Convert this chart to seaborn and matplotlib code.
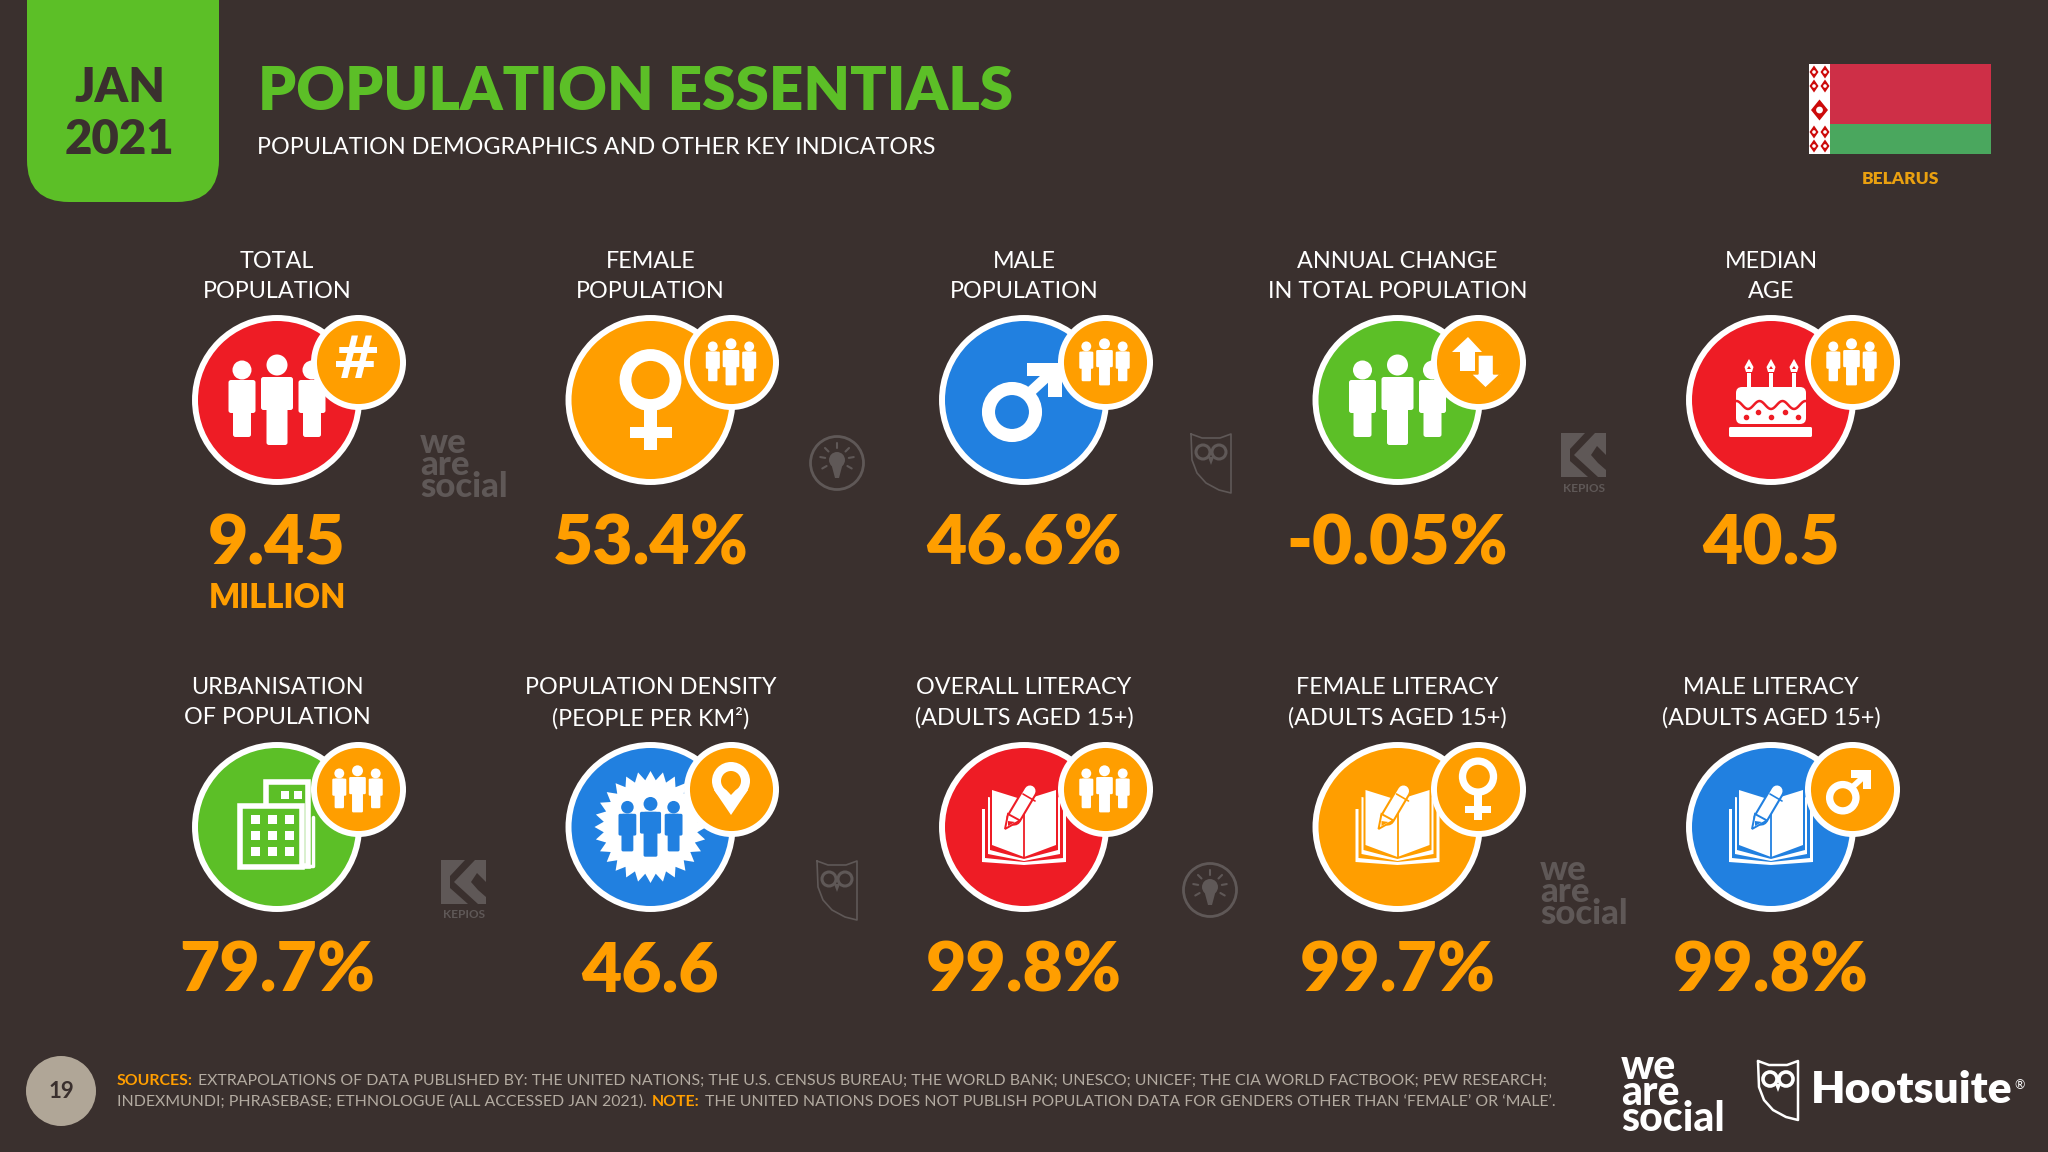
import matplotlib.pyplot as plt
import numpy as np
import pandas as pd
import seaborn as sns
from matplotlib.patches import Circle, FancyBboxPatch, Polygon, Rectangle

# slide content
heading_top = ["TOTAL", "FEMALE", "MALE", "ANNUAL CHANGE", "MEDIAN",
               "URBANISATION", "POPULATION DENSITY", "OVERALL LITERACY", "FEMALE LITERACY", "MALE LITERACY"]
heading_bottom = ["POPULATION", "POPULATION", "POPULATION", "IN TOTAL POPULATION", "AGE",
                  "OF POPULATION", "(PEOPLE PER KM²)", "(ADULTS AGED 15+)", "(ADULTS AGED 15+)", "(ADULTS AGED 15+)"]
values = ["9.45", "53.4%", "46.6%", "-0.05%", "40.5", "79.7%", "46.6", "99.8%", "99.7%", "99.8%"]
tile_colors = ["red", "orange", "blue", "green", "red", "green", "blue", "red", "orange", "blue"]

title = "POPULATION ESSENTIALS"
subtitle = "POPULATION DEMOGRAPHICS AND OTHER KEY INDICATORS"
sources_line1 = "EXTRAPOLATIONS OF DATA PUBLISHED BY: THE UNITED NATIONS; THE U.S. CENSUS BUREAU; THE WORLD BANK; UNESCO; UNICEF; THE CIA WORLD FACTBOOK; PEW RESEARCH;"
sources_line2 = "INDEXMUNDI; PHRASEBASE; ETHNOLOGUE (ALL ACCESSED JAN 2021)."
note_text = "THE UNITED NATIONS DOES NOT PUBLISH POPULATION DATA FOR GENDERS OTHER THAN ‘FEMALE’ OR ‘MALE’."

BG = "#3a302e"
ORANGE = "#ff9e00"
GREEN = "#5cbf27"
MARK = "#5f5857"
palette = {"red": "#ee1c25", "orange": "#ff9e00", "blue": "#2180e0", "green": "#5cbf27"}

sns.set_theme(style="white")
plt.rcParams["font.family"] = ["Lato", "DejaVu Sans"]

fig = plt.figure(figsize=(20.48, 11.52), dpi=100, facecolor=BG)
ax = fig.add_axes([0, 0, 1, 1])
ax.set_xlim(0, 2048)
ax.set_ylim(1152, 0)
ax.axis("off")

df = pd.DataFrame({"color": tile_colors, "value": values})
df["col"] = np.arange(10) % 5
df["row"] = np.arange(10) // 5
df["x"] = 277 + df["col"] * 373.5
df["y"] = 400 + df["row"] * 427
df["bx"] = df["x"] + 80.5
df["by"] = df["y"] - 38

sns.scatterplot(data=df, x="x", y="y", hue="color", palette=palette, s=13940, edgecolor="white",
                linewidth=4.3, legend=False, ax=ax, zorder=2)
sns.scatterplot(data=df, x="bx", y="by", color=ORANGE, s=4110, edgecolor="white",
                linewidth=4.3, legend=False, ax=ax, zorder=4)
ax.set_xlim(0, 2048)
ax.set_ylim(1152, 0)
ax.set_xlabel("")
ax.set_ylabel("")


def rrect(x0, y0, x1, y1, r, color, z, **kw):
    ax.add_patch(FancyBboxPatch((x0, y0), x1 - x0, y1 - y0, boxstyle=f"round,pad=0,rounding_size={r}",
                                fc=color, ec="none", zorder=z, **kw))


def shape(cx, cy, pts, fc, z, k=1, ec="none", lw=0):
    ax.add_patch(Polygon([(cx + k * a, cy + k * b) for a, b in pts], fc=fc, ec=ec, lw=lw, zorder=z))


def people(cx, cy, k, color, z):
    for dx, head_y, head_r, tw, tt, tb, lw_, bot in [(-35, -30, 9.5, 13.5, -20, 13, 9, 37),
                                                     (35, -30, 9.5, 13.5, -20, 13, 9, 37),
                                                     (0, -35, 10.5, 16, -23, 10, 10.5, 45)]:
        ax.add_patch(Circle((cx + k * dx, cy + k * head_y), k * head_r, fc=color, ec="none", zorder=z))
        rrect(cx + k * (dx - tw), cy + k * tt, cx + k * (dx + tw), cy + k * tb, 2.5 * k, color, z)
        rrect(cx + k * (dx - lw_), cy + k * tt, cx + k * (dx + lw_), cy + k * bot, 2.5 * k, color, z)


def female(cx, cy, k, z):
    ax.add_patch(Circle((cx, cy - 20 * k), 25 * k, fc="none", ec="white", lw=8.5 * k, zorder=z))
    ax.add_patch(Rectangle((cx - 6.5 * k, cy + 10 * k), 13 * k, 40 * k, fc="white", ec="none", zorder=z))
    ax.add_patch(Rectangle((cx - 21 * k, cy + 27 * k), 42 * k, 11 * k, fc="white", ec="none", zorder=z))


def male(cx, cy, k, z):
    ax.add_patch(Circle((cx - 12 * k, cy + 12 * k), 23.5 * k, fc="none", ec="white", lw=9.4 * k, zorder=z))
    ax.plot([cx + 3 * k, cx + 28 * k], [cy - 5 * k, cy - 28 * k], color="white", lw=7.5 * k, zorder=z,
            solid_capstyle="butt")
    shape(cx, cy, [(3, -37), (38, -37), (38, -3), (24, -3), (24, -24), (3, -24)], "white", z, k)


def page_level(cx, cy, half, top_side, top_mid, bot_side, bot_mid, color, z):
    shape(cx, cy, [(-half, top_side), (0, top_mid), (half, top_side), (half, bot_side), (0, bot_mid), (-half, bot_side)], color, z)


def book(cx, cy, fill, z):
    page_level(cx, cy, 42, -18, -18, 35, 38, "white", z)
    page_level(cx, cy, 39, -24, -24, 31, 35, fill, z + 0.01)
    page_level(cx, cy, 36, -30, -24, 27, 34, "white", z + 0.02)
    page_level(cx, cy, 34, -32, -24, 23, 32, fill, z + 0.03)
    page_level(cx, cy, 32, -37, -27, 18, 30, "white", z + 0.04)
    ax.plot([cx, cx], [cy - 27, cy + 30], color=fill, lw=1.3, zorder=z + 0.05)
    # pencil
    ax.plot([cx + 6, cx - 10], [cy - 36, cy - 9], color=fill, lw=11, zorder=z + 0.1, solid_capstyle="round")
    ax.plot([cx + 6, cx - 10], [cy - 36, cy - 9], color="white", lw=8, zorder=z + 0.2, solid_capstyle="round")
    shape(cx, cy, [(-19, 2), (-16, -13), (-4, -6.5)], "white", z + 0.2, ec=fill, lw=1.4)
    shape(cx, cy, [(-16, -6), (-9, -5), (-16, -1)], fill, z + 0.3)
    ax.plot([cx - 1, cx + 11], [cy - 33, cy - 26], color=fill, lw=1.2, zorder=z + 0.3)


# header
rrect(27, -60, 219, 202, 42, GREEN, 2)
ax.text(120, 88, "JAN", ha="center", va="center", fontsize=34, fontweight="heavy", color=BG, zorder=3)
ax.text(120, 140, "2021", ha="center", va="center", fontsize=34, fontweight="heavy", color=BG, zorder=3)
ax.text(258, 92, title, ha="left", va="center", fontsize=43.3, fontweight="heavy", color=GREEN)
ax.text(257, 147, subtitle, ha="left", va="center", fontsize=16.85, fontweight="normal", color="white")

# flag
ax.add_patch(Rectangle((1830, 64), 161, 60, fc="#ce2f47", ec="none"))
ax.add_patch(Rectangle((1830, 124), 161, 30, fc="#4aa75e", ec="none"))
ax.add_patch(Rectangle((1809, 64), 21, 90, fc="white", ec="none"))
for fy, fs in zip([72, 86, 110, 132, 146], [9, 9, 17, 9, 9]):
    for fx in (1814, 1825) if fs == 9 else (1819.5,):
        ax.add_patch(Polygon([(fx, fy - fs / 2 - 2), (fx + fs / 2, fy), (fx, fy + fs / 2 + 2), (fx - fs / 2, fy)],
                             fc="#cc0a0a", ec="none", zorder=3))
        ax.add_patch(Circle((fx, fy), fs / 5, fc="white", ec="none", zorder=3.1))
ax.text(1900, 179, "BELARUS", ha="center", va="center", fontsize=12.5, fontweight="heavy", color="#e9a010")

# tiles
for i, r in df.iterrows():
    ax.text(r["x"], r["y"] - 139, heading_top[i], ha="center", va="center", fontsize=16.8, color="white")
    ax.text(r["x"], r["y"] - 109, heading_bottom[i], ha="center", va="center", fontsize=16.8, color="white")
    ax.text(r["x"], r["y"] + 145, r["value"], ha="center", va="center", fontsize=50, fontweight="heavy", color=ORANGE)
ax.text(277, 598, "MILLION", ha="center", va="center", fontsize=23.5, fontweight="heavy", color=ORANGE)

# big icons
cols = df["x"].tolist()
rows = df["y"].tolist()
people(cols[0], rows[0], 1, "white", 3)
female(cols[1], rows[1], 1, 3)
male(cols[2], rows[2], 1, 3)
people(cols[3], rows[3], 1, "white", 3)

# cake
cx, cy = cols[4], rows[4]
rrect(cx - 42, cy + 27, cx + 41, cy + 37, 1.5, "white", 3)
rrect(cx - 35, cy - 13, cx + 35, cy + 24, 6, "white", 3)
for dx in (-22, 0, 23):
    ax.add_patch(Rectangle((cx + dx - 2, cy - 27), 4, 14, fc="white", ec="none", zorder=3))
    shape(cx + dx, cy, [(0, -41), (4.5, -33), (3, -28), (-3, -28), (-4.5, -33)], "white", 3)
    shape(cx + dx, cy, [(0, -34), (2, -31), (-2, -31)], palette["red"], 3.1)
wave_x = np.linspace(-35, 35, 60)
ax.plot(cx + wave_x, cy + 5 + 4 * np.cos(wave_x * np.pi / 11.5), color=palette["red"], lw=1.8, zorder=3.1)
ax.scatter(cx + np.array([-25, -13, 0, 14, 27]), cy + np.array([17, 12, 17, 12, 17]), s=9, color=palette["red"], zorder=3.1)

# buildings
cx, cy = cols[5], rows[5]
ax.add_patch(Rectangle((cx - 11, cy - 45), 42, 84, fc=palette["green"], ec="white", lw=4, zorder=3))
ax.plot([cx + 36, cx + 36, cx + 27], [cy - 10, cy + 39, cy + 39], color="white", lw=2.5, zorder=3)
ax.add_patch(Rectangle((cx - 37, cy - 21), 62, 61, fc=palette["green"], ec="white", lw=4, zorder=3.1))
for wx in (-26, -9, 8):
    for wy in (-12, 4, 20):
        ax.add_patch(Rectangle((cx + wx, cy + wy), 9, 9, fc="white", ec="none", zorder=3.2))
for wx in (4, 17):
    ax.add_patch(Rectangle((cx + wx, cy - 36), 8, 8, fc="white", ec="none", zorder=3.2))

# starburst
cx, cy = cols[6], rows[6]
angles = np.linspace(0, 2 * np.pi, 56, endpoint=False)
radii = np.where(np.arange(56) % 2 == 0, 56, 47)
ax.add_patch(Polygon(np.c_[cx + radii * np.cos(angles), cy + radii * np.sin(angles)], fc="white", ec="none", zorder=3))
people(cx, cy, 0.66, palette["blue"], 3.1)

book(cols[7], rows[7], palette["red"], 3)
book(cols[8], rows[8], palette["orange"], 3)
book(cols[9], rows[9], palette["blue"], 3)

# badge icons
bx = df["bx"].tolist()
by = df["by"].tolist()
ax.text(bx[0] - 1, by[0] - 1, "#", ha="center", va="center", fontsize=42, fontweight="bold", color="white",
        family="DejaVu Sans", zorder=5)
for i in (1, 2, 4, 5, 7):
    people(bx[i], by[i], 0.52, "white", 5)

# up and down arrows
shape(bx[3], by[3], [(-10, -25), (4, -10), (-3, -10), (-3, 9), (-18, 9), (-18, -10), (-26, -10)], "white", 5)
shape(bx[3], by[3], [(7.5, 26), (22.5, 12), (15.5, 12), (15.5, -7), (0, -7), (0, 12), (-7, 12)], "white", 5.1, ec=ORANGE, lw=1)

# map pin
ax.add_patch(Circle((bx[6], by[6] - 8), 19, fc="white", ec="none", zorder=5))
shape(bx[6], by[6], [(-17, 1), (17, 1), (0, 26)], "white", 5)
ax.add_patch(Circle((bx[6], by[6] - 8), 10, fc=ORANGE, ec="none", zorder=5.1))
shape(bx[6], by[6], [(-7.5, -2), (7.5, -2), (0, 6)], ORANGE, 5.1)

female(bx[8], by[8], 0.62, 5)
male(bx[9] - 2, by[9] + 2, 0.56, 5)


# faint logos between the tiles
def wm_social(x, y):
    ax.text(x, y, "we\nare\nsocial", ha="left", va="top", fontsize=25, fontweight="black", color=MARK, linespacing=0.62)


def wm_bulb(x, y):
    ax.add_patch(Circle((x, y), 26.5, fc="none", ec=MARK, lw=2))
    ax.add_patch(Circle((x, y - 3), 8, fc=MARK, ec="none"))
    ax.add_patch(Polygon([(x - 6, y), (x + 6, y), (x + 2, y + 15), (x - 2, y + 15)], fc=MARK, ec="none"))
    for a in np.radians([-170, -135, -90, -45, -10, 30, 150]):
        ax.plot([x + 12 * np.cos(a), x + 17 * np.cos(a)], [y - 3 + 12 * np.sin(a), y - 3 + 17 * np.sin(a)], color=MARK, lw=1.5)


def owl(x, y, color, lw, eye_lw):
    shield = [(-20, -29), (-9, -25), (9, -25), (20, -29), (20, 30), (8, 27), (-5, 20), (-14, 10), (-19, -3), (-20, -29)]
    ax.plot([x + a for a, b in shield], [y + b for a, b in shield], color=color, lw=lw, zorder=1)
    for d in (-8, 8):
        ax.add_patch(Circle((x + d, y - 11), 7, fc="none", ec=color, lw=eye_lw, zorder=1))
    shape(x, y, [(-3, -6), (3, -6), (0, 2)], color, 1)


def kepios(x, y):
    ax.add_patch(Rectangle((x - 23, y - 29), 45, 44, fc=MARK, ec="none"))
    ax.add_patch(Polygon([(x - 10, y - 7), (x + 11, y - 29), (x + 1, y - 29), (x - 14, y - 13), (x - 14, y - 1), (x + 4, y + 15), (x + 14, y + 15)],
                         fc=BG, ec="none"))
    ax.add_patch(Polygon([(x + 22, y - 7), (x + 13, y - 16), (x + 7, y - 7), (x + 14, y + 1), (x + 22, y + 8)], fc=BG, ec="none"))
    ax.text(x, y + 26, "KEPIOS", ha="center", va="center", fontsize=8.5, fontweight="bold", color=MARK)


wm_social(420, 427)
wm_social(1540, 854)
wm_bulb(837, 463)
wm_bulb(1210, 890)
owl(1211, 463, MARK, 1.2, 2.2)
owl(837, 890, MARK, 1.2, 2.2)
kepios(1584, 462)
kepios(464, 889)

# footer
ax.add_patch(Circle((61, 1091), 35, fc="#b0a697", ec="none"))
ax.text(61, 1092, "19", ha="center", va="center", fontsize=16, fontweight="bold", color=BG)

renderer = fig.canvas.get_renderer()


def runs(x, y, parts):
    for s, color, weight in parts:
        t = ax.text(x, y, s, ha="left", va="center", fontsize=11.4, color=color, fontweight=weight)
        x = t.get_window_extent(renderer).x1 + 5


FOOT = "#b3aba1"
runs(117, 1081, [("SOURCES:", ORANGE, "bold"), (sources_line1, FOOT, "normal")])
runs(117, 1102, [(sources_line2, FOOT, "normal"), ("NOTE:", ORANGE, "bold"), (note_text, FOOT, "normal")])

ax.text(1621, 1048, "we\nare\nsocial", ha="left", va="top", fontsize=29.5, fontweight="black", color="white", linespacing=0.62)
owl(1778, 1090, "white", 1.8, 2.6)
ax.text(1811, 1090, "Hootsuite", ha="left", va="center", fontsize=32, fontweight="heavy", color="white")
ax.text(2014, 1085, "®", ha="left", va="center", fontsize=9, color="white")

fig.savefig("out.png", dpi=100, facecolor=BG)
